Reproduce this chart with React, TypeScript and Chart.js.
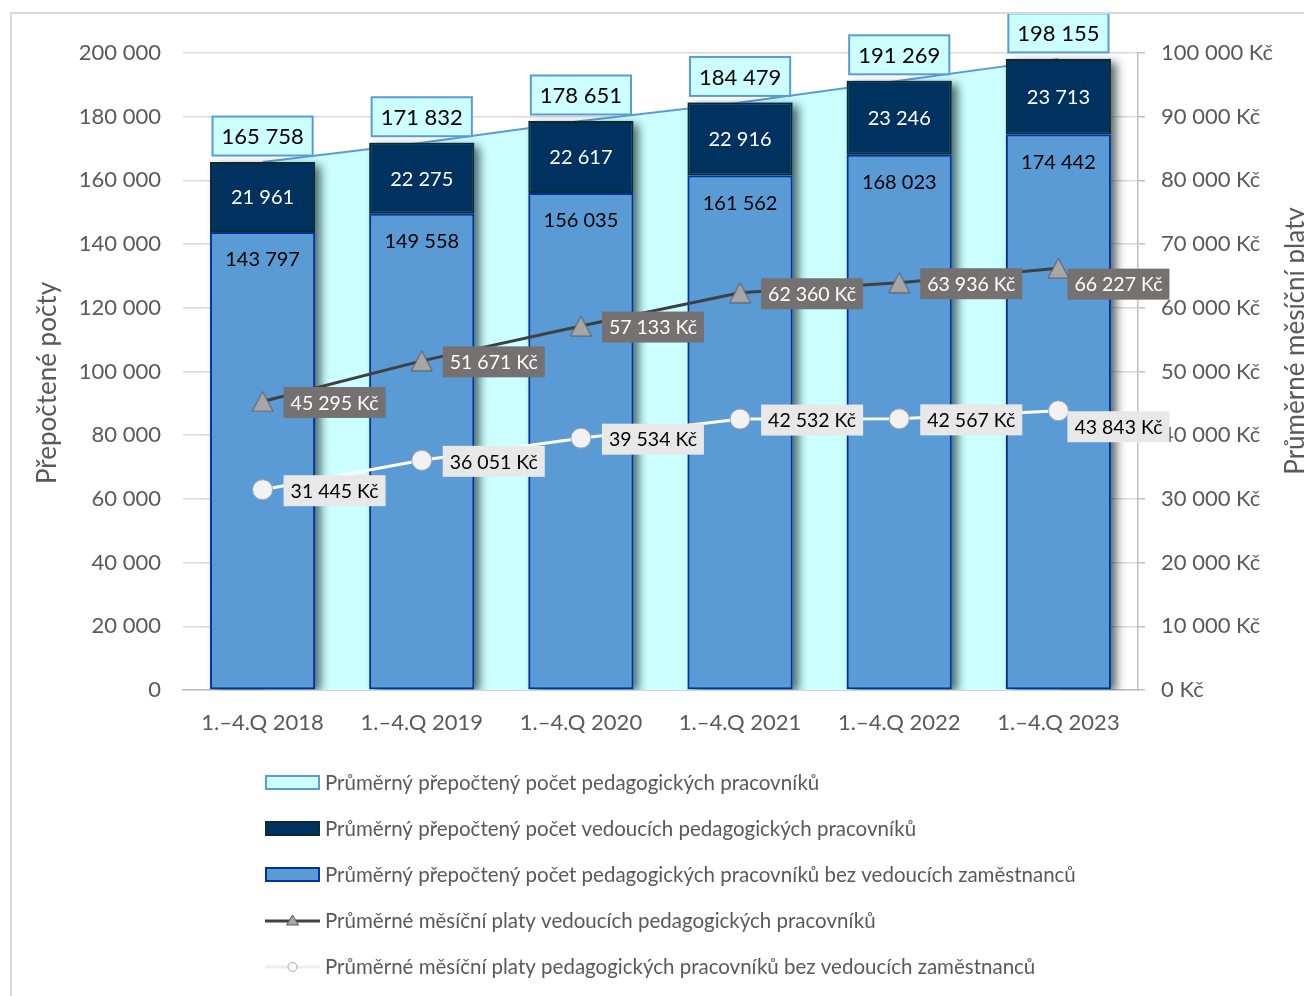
import React, { useEffect, useRef } from "react";
import { Chart, registerables } from "chart.js";

Chart.register(...registerables);

const categories = ["1.–4.Q 2018", "1.–4.Q 2019", "1.–4.Q 2020", "1.–4.Q 2021", "1.–4.Q 2022", "1.–4.Q 2023"];
const totalStaff = [165758, 171832, 178651, 184479, 191269, 198155];
const leaderStaff = [21961, 22275, 22617, 22916, 23246, 23713];
const otherStaff = [143797, 149558, 156035, 161562, 168023, 174442];
const leaderSalary = [45295, 51671, 57133, 62360, 63936, 66227];
const otherSalary = [31445, 36051, 39534, 42532, 42567, 43843];

const leftAxisMax = 200000;
const leftAxisStep = 20000;
const rightAxisMax = 100000;
const rightAxisStep = 10000;

const leftTitle = "Přepočtené počty";
const rightTitle = "Průměrné měsíční platy";
const legendLabels = [
  "Průměrný přepočtený počet pedagogických pracovníků",
  "Průměrný přepočtený počet vedoucích pedagogických pracovníků",
  "Průměrný přepočtený počet pedagogických pracovníků bez vedoucích zaměstnanců",
  "Průměrné měsíční platy vedoucích pedagogických pracovníků",
  "Průměrné měsíční platy pedagogických pracovníků bez vedoucích zaměstnanců",
];

const FONT = "Lato, 'Open Sans', sans-serif";
const GRAY_TEXT = "#595959";
const CYAN = "#CCFFFF";
const MID_BLUE = "#5B9BD5";
const MID_BORDER = "#0033A0";
const DARK = "#00325F";
const DARK_BORDER = "#0C2A30";

const fmt = (n: number) => String(Math.round(n)).replace(/\B(?=(\d{3})+(?!\d))/g, "\u00a0");

function makeTriangle(w: number, h: number, fill: string, stroke: string) {
  const c = document.createElement("canvas");
  c.width = w + 2;
  c.height = h + 2;
  const g = c.getContext("2d")!;
  g.beginPath();
  g.moveTo(c.width / 2, 1);
  g.lineTo(c.width - 1, c.height - 1);
  g.lineTo(1, c.height - 1);
  g.closePath();
  g.fillStyle = fill;
  g.fill();
  g.strokeStyle = stroke;
  g.lineWidth = 1;
  g.stroke();
  return c;
}

function box(ctx: CanvasRenderingContext2D, x: number, y: number, w: number, h: number, fill: string, stroke?: string, lw = 2) {
  ctx.fillStyle = fill;
  ctx.fillRect(x, y, w, h);
  if (stroke) {
    ctx.strokeStyle = stroke;
    ctx.lineWidth = lw;
    ctx.strokeRect(x, y, w, h);
  }
}

const customPlugin = {
  id: "customDraw",
  beforeDatasetsDraw(chart: any) {
    chart.$shadowDone = false;
  },
  beforeDatasetDraw(chart: any, args: any) {
    if (chart.$shadowDone) return;
    if (args.meta.type !== "bar") return;
    chart.$shadowDone = true;
    const ctx = chart.ctx as CanvasRenderingContext2D;
    const ca = chart.chartArea;
    const bottomMeta = chart.getDatasetMeta(1);
    const topMeta = chart.getDatasetMeta(2);
    ctx.save();
    ctx.beginPath();
    ctx.rect(ca.left, ca.top - 40, ca.right - ca.left, ca.bottom - ca.top + 40);
    ctx.clip();
    ctx.shadowColor = "rgba(0,20,20,0.65)";
    ctx.shadowBlur = 9;
    ctx.shadowOffsetX = 6;
    ctx.shadowOffsetY = 3;
    ctx.fillStyle = MID_BLUE;
    bottomMeta.data.forEach((el: any, i: number) => {
      const t = topMeta.data[i];
      const w = el.width;
      ctx.fillRect(el.x - w / 2, t.y, w, el.base - t.y);
    });
    ctx.restore();
  },
  afterDatasetsDraw(chart: any) {
    const ctx = chart.ctx as CanvasRenderingContext2D;
    ctx.save();
    ctx.textAlign = "center";
    ctx.textBaseline = "middle";

    // bar labels
    const bottomMeta = chart.getDatasetMeta(1);
    const topMeta = chart.getDatasetMeta(2);
    ctx.font = `20px ${FONT}`;
    bottomMeta.data.forEach((el: any, i: number) => {
      ctx.fillStyle = "#000000";
      ctx.fillText(fmt(otherStaff[i]), el.x, el.y + 28);
      const t = topMeta.data[i];
      ctx.fillStyle = "#FFFFFF";
      ctx.fillText(fmt(leaderStaff[i]), t.x, (t.y + t.base) / 2 + 1);
    });

    // total labels
    const areaMeta = chart.getDatasetMeta(0);
    ctx.font = `22px ${FONT}`;
    areaMeta.data.forEach((p: any, i: number) => {
      const txt = fmt(totalStaff[i]);
      const w = ctx.measureText(txt).width + 18;
      const h = 39;
      const cy = p.y - 26;
      box(ctx, p.x - w / 2, cy - h / 2, w, h, CYAN, MID_BLUE, 2);
      ctx.fillStyle = "#000000";
      ctx.fillText(txt, p.x, cy + 1);
    });

    // line labels
    ctx.font = `19.5px ${FONT}`;
    ctx.textAlign = "left";
    const drawLineLabels = (meta: any, values: number[], bg: string, fg: string) => {
      const n = meta.data.length;
      meta.data.forEach((p: any, i: number) => {
        const txt = fmt(values[i]) + "\u00a0Kč";
        const w = ctx.measureText(txt).width + 14;
        const h = 31;
        const last = i === n - 1;
        const x = p.x + (last ? 9 : 21);
        const cy = p.y + (last ? 16 : 1);
        box(ctx, x, cy - h / 2, w, h, bg);
        ctx.fillStyle = fg;
        ctx.fillText(txt, x + 7, cy + 1);
      });
    };
    drawLineLabels(chart.getDatasetMeta(3), leaderSalary, "#767171", "#FFFFFF");
    drawLineLabels(chart.getDatasetMeta(4), otherSalary, "#E8E8E8", "#000000");
    ctx.restore();
  },
  afterDraw(chart: any) {
    const ctx = chart.ctx as CanvasRenderingContext2D;
    ctx.save();
    // outer frame
    ctx.strokeStyle = "#D9D9D9";
    ctx.lineWidth = 2;
    ctx.beginPath();
    ctx.moveTo(3, chart.height);
    ctx.lineTo(3, 5);
    ctx.lineTo(chart.width, 5);
    ctx.stroke();

    // axis titles
    ctx.fillStyle = GRAY_TEXT;
    ctx.font = `26px ${FONT}`;
    ctx.textAlign = "center";
    ctx.textBaseline = "middle";
    ctx.save();
    ctx.translate(40, 375);
    ctx.rotate(-Math.PI / 2);
    ctx.fillText(leftTitle, 0, 0);
    ctx.restore();
    ctx.save();
    ctx.translate(1288, 333);
    ctx.rotate(-Math.PI / 2);
    ctx.fillText(rightTitle, 0, 0);
    ctx.restore();

    // legend
    const symX = 257;
    const symW = 55;
    const textX = 317;
    const rowY = [774, 820, 866, 912, 958];
    ctx.font = `20.5px ${FONT}`;
    ctx.textAlign = "left";
    ctx.textBaseline = "middle";
    legendLabels.forEach((label, i) => {
      const y = rowY[i];
      if (i === 0) box(ctx, symX + 1, y - 6, symW - 2, 13, CYAN, MID_BLUE, 2);
      if (i === 1) box(ctx, symX + 1, y - 6, symW - 2, 13, DARK, DARK_BORDER, 2);
      if (i === 2) box(ctx, symX + 1, y - 6, symW - 2, 13, MID_BLUE, MID_BORDER, 2);
      if (i === 3) {
        ctx.strokeStyle = "#404040";
        ctx.lineWidth = 3;
        ctx.beginPath();
        ctx.moveTo(symX, y + 1);
        ctx.lineTo(symX + symW, y + 1);
        ctx.stroke();
        ctx.beginPath();
        const cx = symX + symW / 2;
        ctx.moveTo(cx, y - 5);
        ctx.lineTo(cx + 6, y + 5);
        ctx.lineTo(cx - 6, y + 5);
        ctx.closePath();
        ctx.fillStyle = "#A6A6A6";
        ctx.fill();
        ctx.strokeStyle = "#595959";
        ctx.lineWidth = 1;
        ctx.stroke();
      }
      if (i === 4) {
        ctx.strokeStyle = "#EDEDED";
        ctx.lineWidth = 3;
        ctx.beginPath();
        ctx.moveTo(symX, y + 1);
        ctx.lineTo(symX + symW, y + 1);
        ctx.stroke();
        ctx.beginPath();
        ctx.arc(symX + symW / 2, y + 1, 4.5, 0, Math.PI * 2);
        ctx.fillStyle = "#FFFFFF";
        ctx.fill();
        ctx.strokeStyle = "#A6A6A6";
        ctx.lineWidth = 1;
        ctx.stroke();
      }
      ctx.fillStyle = GRAY_TEXT;
      ctx.fillText(label, textX, y + 1);
    });
    ctx.restore();
  },
};

export default function App() {
  const ref = useRef<HTMLCanvasElement | null>(null);
  useEffect(() => {
    if (!ref.current) return;
    const tri = makeTriangle(21, 20, "#A6A6A6", "#595959");
    const chart = new Chart(ref.current, {
      type: "bar",
      data: {
        labels: categories,
        datasets: [
          {
            type: "line",
            label: legendLabels[0],
            data: totalStaff,
            yAxisID: "y",
            stack: "total",
            fill: "origin",
            backgroundColor: CYAN,
            borderColor: MID_BLUE,
            borderWidth: 2,
            pointRadius: 0,
            tension: 0,
            order: 10,
          } as any,
          {
            type: "bar",
            label: legendLabels[2],
            data: otherStaff,
            yAxisID: "y",
            stack: "bars",
            backgroundColor: MID_BLUE,
            borderColor: MID_BORDER,
            borderWidth: 2,
            borderSkipped: false,
            order: 5,
          },
          {
            type: "bar",
            label: legendLabels[1],
            data: leaderStaff,
            yAxisID: "y",
            stack: "bars",
            backgroundColor: DARK,
            borderColor: DARK_BORDER,
            borderWidth: 2,
            borderSkipped: false,
            order: 5,
          },
          {
            type: "line",
            label: legendLabels[3],
            data: leaderSalary,
            yAxisID: "y1",
            stack: "s1",
            borderColor: "#404040",
            borderWidth: 3,
            pointStyle: tri as any,
            pointRadius: 10,
            fill: false,
            order: 1,
          } as any,
          {
            type: "line",
            label: legendLabels[4],
            data: otherSalary,
            yAxisID: "y1",
            stack: "s2",
            borderColor: "#FFFFFF",
            borderWidth: 3,
            pointStyle: "circle",
            pointRadius: 10,
            pointBackgroundColor: "#F2F2F2",
            pointBorderColor: "#A6A6A6",
            pointBorderWidth: 1,
            fill: false,
            order: 1,
          } as any,
        ],
      },
      options: {
        responsive: false,
        maintainAspectRatio: false,
        animation: false,
        layout: { padding: { top: 45, left: 0, right: 0, bottom: 0 } },
        datasets: { bar: { categoryPercentage: 1, barPercentage: 0.66 } },
        plugins: {
          legend: { display: false },
          tooltip: { enabled: false },
        },
        scales: {
          x: {
            type: "category",
            stacked: true,
            offset: true,
            grid: { display: false, drawTicks: false },
            border: { display: true, color: "#BFBFBF", width: 1.5 },
            ticks: { color: GRAY_TEXT, font: { family: FONT, size: 22 }, padding: 20, maxRotation: 0 },
            afterFit: (s: any) => {
              s.height = 306;
            },
          },
          y: {
            type: "linear",
            position: "left",
            stacked: true,
            min: 0,
            max: leftAxisMax,
            ticks: {
              stepSize: leftAxisStep,
              color: GRAY_TEXT,
              font: { family: FONT, size: 22 },
              padding: 22,
              callback: (v: any) => fmt(Number(v)),
            },
            grid: { color: "#D9D9D9", lineWidth: 1.5, drawTicks: false },
            border: { display: false },
            afterFit: (s: any) => {
              s.width = 175;
            },
          },
          y1: {
            type: "linear",
            position: "right",
            min: 0,
            max: rightAxisMax,
            ticks: {
              stepSize: rightAxisStep,
              color: GRAY_TEXT,
              font: { family: FONT, size: 22 },
              padding: 16,
              callback: (v: any) => fmt(Number(v)) + "\u00a0Kč",
            },
            grid: { drawOnChartArea: false, color: "#BFBFBF", tickLength: 7, lineWidth: 1.5 },
            border: { display: true, color: "#BFBFBF", width: 1.5 },
            afterFit: (s: any) => {
              s.width = 174;
            },
          },
        },
      } as any,
      plugins: [customPlugin as any],
    });
    return () => chart.destroy();
  }, []);

  return (
    <div style={{ width: 1304, height: 988 }}>
      <canvas ref={ref} width={1304} height={988} style={{ display: "block", width: 1304, height: 988 }} />
    </div>
  );
}
